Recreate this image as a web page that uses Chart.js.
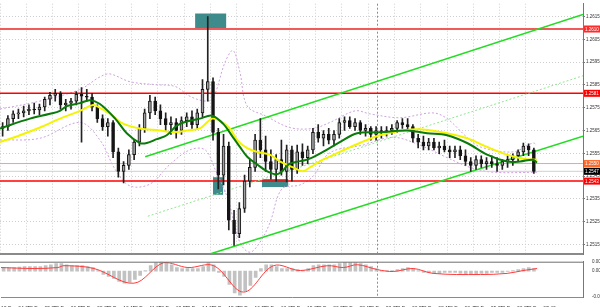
<!DOCTYPE html>
<html>
<head>
<meta charset="utf-8">
<script src="https://cdn.jsdelivr.net/npm/chart.js@4.4.1/dist/chart.umd.min.js"></script>
<style>
  html, body { margin: 0; padding: 0; background: #fff; }
  #wrap { position: relative; width: 600px; height: 307px; overflow: hidden; background: #fff; }
  canvas { position: absolute; left: 0; }
  #priceChart { top: 0; }
  #macdChart { top: 258px; }
</style>
</head>
<body>
<div id="wrap">
  <canvas id="priceChart" width="600" height="258"></canvas>
  <canvas id="macdChart" width="600" height="49"></canvas>
</div>
<script>
// --- DATA ---
const timeLabels = ['12 Dec 04:00', '12 Dec 05:20', '12 Dec 06:50', '12 Dec 08:30', '12 Dec 10:10',
  '12 Dec 11:30', '12 Dec 12:50', '12 Dec 14:10', '12 Dec 15:30', '12 Dec 16:50', '12 Dec 18:10',
  '12 Dec 19:30', '12 Dec 20:50', '12 Dec 22:10', '12 Dec 23:30', '13 Dec 00:50', '13 Dec 02:10',
  '13 Dec 03:40', '13 Dec 05:00', '13 Dec 06:20', '13 Dec 07:40'];
const labelStep = 5;      // candles per time label
const xMax = 110.84;      // right edge of the plot, in candles
const daySeparatorX = 71.7;

const priceTicks = [1.2615, 1.2605, 1.2595, 1.2585, 1.2575, 1.2565, 1.2555, 1.2545, 1.2535, 1.2525, 1.2515];
const priceMin = 1.25107, priceMax = 1.26206;

const opens = [1.25659,1.25667,1.25702,1.25723,1.25727,1.25736,1.25744,1.25740,1.25753,1.25787,
  1.25804,1.25813,1.25762,1.25770,1.25779,1.25809,1.25800,1.25796,1.25753,1.25702,
  1.25667,1.25685,1.25556,1.25471,1.25497,1.25544,1.25599,1.25659,1.25727,1.25779,
  1.25736,1.25702,1.25676,1.25685,1.25650,1.25693,1.25710,1.25676,1.25727,1.25830,
  1.25864,1.25642,1.25454,1.25582,1.25257,1.25197,1.25308,1.25428,1.25488,1.25608,
  1.25565,1.25514,1.25479,1.25522,1.25471,1.25565,1.25479,1.25556,1.25531,1.25565,
  1.25642,1.25616,1.25633,1.25608,1.25633,1.25685,1.25693,1.25667,1.25685,1.25650,
  1.25659,1.25633,1.25650,1.25642,1.25650,1.25659,1.25685,1.25676,1.25667,1.25616,
  1.25599,1.25582,1.25599,1.25573,1.25582,1.25565,1.25556,1.25565,1.25539,1.25514,
  1.25497,1.25522,1.25505,1.25514,1.25505,1.25497,1.25514,1.25522,1.25539,1.25556,
  1.25582,1.25565];
const highs = [1.25685,1.25715,1.25736,1.25744,1.25757,1.25762,1.25770,1.25766,1.25796,1.25817,
  1.25830,1.25821,1.25787,1.25791,1.25821,1.25838,1.25830,1.25813,1.25762,1.25719,
  1.25702,1.25693,1.25573,1.25514,1.25565,1.25608,1.25676,1.25744,1.25804,1.25796,
  1.25762,1.25727,1.25710,1.25702,1.25710,1.25727,1.25736,1.25744,1.25873,1.26150,
  1.25881,1.25659,1.25633,1.25599,1.25300,1.25334,1.25454,1.25522,1.25633,1.25702,
  1.25625,1.25565,1.25544,1.25608,1.25586,1.25582,1.25586,1.25591,1.25582,1.25659,
  1.25676,1.25650,1.25659,1.25650,1.25702,1.25710,1.25710,1.25702,1.25693,1.25676,
  1.25667,1.25667,1.25667,1.25667,1.25676,1.25693,1.25702,1.25702,1.25676,1.25633,
  1.25625,1.25616,1.25616,1.25599,1.25608,1.25582,1.25582,1.25582,1.25565,1.25531,
  1.25539,1.25539,1.25531,1.25539,1.25531,1.25522,1.25539,1.25548,1.25565,1.25595,
  1.25591,1.25573];
const lows = [1.25625,1.25650,1.25685,1.25702,1.25710,1.25719,1.25723,1.25719,1.25736,1.25762,
  1.25779,1.25744,1.25736,1.25744,1.25762,1.25599,1.25779,1.25736,1.25685,1.25650,
  1.25625,1.25531,1.25445,1.25420,1.25479,1.25522,1.25582,1.25642,1.25702,1.25719,
  1.25676,1.25650,1.25633,1.25616,1.25633,1.25667,1.25659,1.25659,1.25710,1.25779,
  1.25608,1.25394,1.25411,1.25214,1.25146,1.25180,1.25291,1.25402,1.25471,1.25531,
  1.25471,1.25437,1.25428,1.25454,1.25424,1.25428,1.25462,1.25497,1.25505,1.25548,
  1.25599,1.25582,1.25591,1.25582,1.25616,1.25650,1.25659,1.25650,1.25633,1.25625,
  1.25608,1.25608,1.25616,1.25625,1.25633,1.25642,1.25659,1.25650,1.25599,1.25573,
  1.25565,1.25565,1.25565,1.25548,1.25556,1.25531,1.25531,1.25522,1.25497,1.25471,
  1.25479,1.25488,1.25479,1.25488,1.25471,1.25479,1.25488,1.25497,1.25514,1.25539,
  1.25539,1.25462];
const closes = [1.25667,1.25702,1.25723,1.25727,1.25736,1.25744,1.25740,1.25753,1.25787,1.25804,
  1.25813,1.25762,1.25770,1.25779,1.25809,1.25800,1.25796,1.25753,1.25702,1.25667,
  1.25685,1.25556,1.25471,1.25497,1.25544,1.25599,1.25659,1.25727,1.25779,1.25736,
  1.25702,1.25676,1.25685,1.25650,1.25693,1.25710,1.25676,1.25727,1.25830,1.25864,
  1.25642,1.25454,1.25582,1.25257,1.25197,1.25308,1.25428,1.25488,1.25608,1.25565,
  1.25514,1.25479,1.25522,1.25471,1.25565,1.25479,1.25556,1.25531,1.25565,1.25642,
  1.25616,1.25633,1.25608,1.25633,1.25685,1.25693,1.25667,1.25685,1.25650,1.25659,
  1.25633,1.25650,1.25642,1.25650,1.25659,1.25685,1.25676,1.25667,1.25616,1.25599,
  1.25582,1.25599,1.25573,1.25582,1.25565,1.25556,1.25565,1.25539,1.25514,1.25497,
  1.25522,1.25505,1.25514,1.25505,1.25497,1.25514,1.25522,1.25539,1.25556,1.25582,
  1.25565,1.25471];

// moving averages
const fastMaX = [0,5.7,9.5,11.4,12.7,15.2,17.1,19.0,21.9,24.1,26.6,27.9,29.8,31.7,33.7,36.1,38.0,40.3,42.4,44.3,
  45.6,47.0,48.9,50.8,52.7,53.8,55.1,58.4,61.4,64.6,67.9,72.2,77.4,81.2,85.0,88.8,92.6,96.4,98.9,101.3,102.1];
const fastMaY = [1.25659,1.25702,1.25723,1.25736,1.25757,1.25770,1.25783,1.25766,1.25702,1.25638,
  1.25595,1.25595,1.25612,1.25629,1.25672,1.25693,1.25702,1.25715,1.25680,1.25620,
  1.25578,1.25535,1.25501,1.25471,1.25458,1.25475,1.25505,1.25522,1.25556,1.25599,
  1.25638,1.25642,1.25650,1.25638,1.25629,1.25595,1.25544,1.25514,1.25514,1.25522,1.25509];
const slowMaX = [0,3.8,7.6,11.4,15.2,17.7,19.0,20.9,23.4,26.6,30.4,32.9,35.6,38.0,40.3,41.8,43.7,45.1,47.0,48.9,
  51.3,53.2,55.7,57.6,58.9,61.4,64.6,68.4,72.2,76.6,79.8,85.0,88.8,92.6,96.4,99.4,102.1];
const slowMaY = [1.25599,1.25629,1.25663,1.25702,1.25736,1.25762,1.25749,1.25723,1.25680,1.25659,
  1.25650,1.25642,1.25650,1.25659,1.25702,1.25693,1.25659,1.25608,1.25573,1.25556,
  1.25544,1.25514,1.25488,1.25471,1.25488,1.25522,1.25556,1.25595,1.25629,1.25650,
  1.25655,1.25638,1.25616,1.25578,1.25544,1.25526,1.25522];

// bands
const upperBandX = [0,7.6,15.2,19.0,20.9,24.7,29.5,33.3,36.1,39.0,40.5,42.8,44.3,45.6,47.0,50.4,55.1,59.5,62.7,
  67.5,70.3,76.0,82.3,85.0,88.8,91.3,97.5,101.3,102.1];
const upperBandY = [1.25744,1.25779,1.25830,1.25885,1.25898,1.25864,1.25851,1.25843,1.25800,1.25779,1.25791,
  1.25950,1.26001,1.25907,1.25757,1.25715,1.25663,1.25659,1.25685,1.25736,1.25723,1.25706,1.25727,1.25702,
  1.25620,1.25578,1.25556,1.25595,1.25586];
const lowerBandX = [0,7.6,15.2,19.0,21.9,24.7,28.5,32.3,36.1,39.0,40.9,43.3,45.6,47.5,49.4,51.3,53.6,57.0,59.5,
  62.7,69.0,74.7,79.8,85.0,89.4,93.7,102.1];
const lowerBandY = [1.25608,1.25616,1.25685,1.25608,1.25479,1.25407,1.25415,1.25501,1.25565,1.25565,1.25479,
  1.25351,1.25159,1.25116,1.25159,1.25244,1.25394,1.25411,1.25449,1.25552,1.25586,1.25620,1.25586,1.25531,
  1.25488,1.25467,1.25467];

// trend channel
const upperChannelX = [27.6, 110.84], upperChannelY = [1.25535, 1.26159];
const lowerChannelX = [39.9, 110.84], lowerChannelY = [1.25108, 1.25625];
const midChannelX = [28.1, 110.84], midChannelY = [1.25274, 1.25890];

// horizontal levels
const levelPrices = [1.26095, 1.25813, 1.25505, 1.25428];
const levelColors = ['#f05a5a', '#ff0000', '#ffa07a', '#ff0000'];
const levelWidths = [2, 1.5, 1, 1.5];
const tagColors = ['#ff2a2a', '#ff0000', '#ff6a2a', '#ff0000'];
const bidPrice = 1.25471;

// zones
const zoneStart = [37.1, 40.5, 49.8];
const zoneEnd = [43.0, 42.4, 54.8];
const zoneTop = [1.26163, 1.25445, 1.25437];
const zoneBottom = [1.26091, 1.25368, 1.25402];

// MACD
const macdHist = [0.00019,0.00019,0.00019,0.00021,0.00024,0.00024,0.00024,0.00024,0.00029,0.00034,
  0.00040,0.00040,0.00034,0.00029,0.00029,0.00029,0.00024,0.00019,0.00003,-0.00018,
  -0.00028,-0.00038,-0.00054,-0.00064,-0.00059,-0.00044,-0.00023,0.00003,0.00029,0.00045,
  0.00050,0.00045,0.00034,0.00019,0.00014,0.00014,0.00014,0.00014,0.00024,0.00045,
  0.00034,-0.00007,-0.00028,-0.00070,-0.00116,-0.00127,-0.00106,-0.00075,-0.00033,0.00014,
  0.00034,0.00034,0.00024,0.00014,0.00014,0.00014,0.00008,0.00003,0.00014,0.00029,
  0.00034,0.00034,0.00034,0.00034,0.00040,0.00045,0.00045,0.00045,0.00040,0.00034,
  0.00024,0.00014,0.00003,0.00003,0.00003,0.00008,0.00014,0.00019,0.00014,0.00003,
  -0.00007,-0.00007,-0.00012,-0.00012,-0.00007,-0.00007,-0.00007,-0.00012,-0.00018,-0.00018,
  -0.00018,-0.00012,-0.00012,-0.00007,-0.00007,-0.00007,-0.00002,0.00003,0.00008,0.00014,
  0.00019,0.00014];
const signalX = [0,6.3,10.8,12.0,17.7,25.3,31.0,35.6,40.5,46.2,51.9,57.0,62.2,65.2,67.9,71.7,74.7,78.5,82.3,91.3,96.4,99.4,102.1];
const signalY = [0.00019,0.00014,0.00019,0.00029,0.00014,-0.00064,0.00045,0.00019,0.00029,-0.00111,0.00029,
  0.00003,0.00029,0.00019,0.00034,0.00008,-0.00002,0.00014,-0.00012,-0.00018,-0.00012,0.00003,0.00014];
const macdTicks = [0.0005, 0, -0.00137];

// --- HELPERS ---
const xy = (xs, ys) => xs.map((v, i) => ({ x: v, y: ys[i] }));
const tickFont = { family: '"Liberation Sans", sans-serif', size: 5 };
const labelTicks = s => { s.ticks = timeLabels.map((t, k) => ({ value: k * labelStep })); };

// --- PLUGINS ---
const zonePlugin = {
  id: 'zones',
  beforeDatasetsDraw(chart) {
    const { ctx, scales: { x, y } } = chart;
    ctx.save();
    ctx.fillStyle = '#3e8b8b';
    zoneStart.forEach((s, i) => {
      const x0 = x.getPixelForValue(s), x1 = x.getPixelForValue(zoneEnd[i]);
      const y0 = y.getPixelForValue(zoneTop[i]), y1 = y.getPixelForValue(zoneBottom[i]);
      ctx.fillRect(x0, y0, x1 - x0, y1 - y0);
    });
    ctx.restore();
  }
};

const separatorPlugin = {
  id: 'daySep',
  beforeDatasetsDraw(chart) {
    const { ctx, chartArea, scales: { x } } = chart;
    const px = Math.round(x.getPixelForValue(daySeparatorX)) + 0.5;
    ctx.save();
    ctx.strokeStyle = '#8c8c8c';
    ctx.lineWidth = 1;
    ctx.setLineDash([2, 2]);
    ctx.beginPath();
    ctx.moveTo(px, chartArea.top);
    ctx.lineTo(px, chartArea.bottom);
    ctx.stroke();
    ctx.restore();
  }
};

const tagPlugin = {
  id: 'levelTags',
  afterDraw(chart) {
    const { ctx, chartArea, scales: { y } } = chart;
    const draw = (p, bg) => {
      const py = y.getPixelForValue(p);
      ctx.fillStyle = bg;
      ctx.fillRect(chartArea.right + 1, py - 3.5, 17, 7);
      ctx.fillStyle = '#fff';
      ctx.fillText(p.toFixed(4), chartArea.right + 2, py + 0.5);
    };
    ctx.save();
    ctx.font = '4.5px "Liberation Sans", sans-serif';
    ctx.textBaseline = 'middle';
    levelPrices.forEach((p, i) => draw(p, tagColors[i]));
    draw(bidPrice, '#000');
    ctx.restore();
  }
};

const framePlugin = {
  id: 'frame',
  afterDraw(chart) {
    const { ctx, chartArea } = chart;
    ctx.save();
    ctx.strokeStyle = '#6e6e6e';
    ctx.lineWidth = 1;
    ctx.beginPath();
    ctx.moveTo(0, chartArea.top + 0.5);
    ctx.lineTo(chartArea.right, chartArea.top + 0.5);
    ctx.stroke();
    ctx.restore();
  }
};

// --- PRICE CHART ---
const lineSet = (data, color, width, order, extra) => Object.assign({
  type: 'line', data, borderColor: color, borderWidth: width, pointRadius: 0, tension: 0.35, order
}, extra || {});

const priceDatasets = [
  lineSet(xy(fastMaX, fastMaY), '#0a7a0a', 2, 1),
  lineSet(xy(slowMaX, slowMaY), '#f4f400', 2, 2),
  {
    type: 'bar', order: 3, grouped: false, barThickness: 3, borderWidth: 1, borderSkipped: false,
    borderColor: '#151515',
    backgroundColor: opens.map((o, i) => closes[i] >= o ? '#a0a0a0' : '#151515'),
    data: opens.map((o, i) => ({ x: i + 0.5, y: [o, closes[i]] }))
  },
  {
    type: 'bar', order: 4, grouped: false, barThickness: 1, backgroundColor: '#222',
    data: highs.map((h, i) => ({ x: i + 0.5, y: [lows[i], h] }))
  },
  lineSet(xy(upperChannelX, upperChannelY), '#22dd22', 1.6, 5, { tension: 0 }),
  lineSet(xy(lowerChannelX, lowerChannelY), '#22dd22', 1.6, 5, { tension: 0 }),
  lineSet(xy(midChannelX, midChannelY), '#8ee88e', 1, 5, { tension: 0, borderDash: [2, 2] }),
  ...levelPrices.map((p, i) => lineSet([{ x: 0, y: p }, { x: xMax, y: p }], levelColors[i], levelWidths[i], 6, { tension: 0 })),
  lineSet([{ x: 0, y: bidPrice }, { x: xMax, y: bidPrice }], '#d0d0d0', 1, 7, { tension: 0 }),
  lineSet(xy(upperBandX, upperBandY), '#cfa0e0', 1, 8, { borderDash: [2, 2] }),
  lineSet(xy(lowerBandX, lowerBandY), '#cfa0e0', 1, 8, { borderDash: [2, 2] })
];

new Chart(document.getElementById('priceChart'), {
  type: 'bar',
  data: { datasets: priceDatasets },
  options: {
    responsive: false, animation: false, devicePixelRatio: 1,
    layout: { padding: 0 },
    plugins: { legend: { display: false }, tooltip: { enabled: false } },
    scales: {
      x: {
        type: 'linear', min: 0, max: xMax, offset: false,
        afterBuildTicks: labelTicks,
        afterFit: s => { s.height = 1; },
        ticks: { display: false },
        grid: { color: '#cfcfcf', drawTicks: false, offset: false },
        border: { color: '#8a8a8a', width: 2, dash: [1, 2] }
      },
      y: {
        position: 'right', min: priceMin, max: priceMax,
        afterBuildTicks: s => { s.ticks = priceTicks.map(v => ({ value: v })); },
        afterFit: s => { s.width = 17; },
        ticks: { font: { family: '"Liberation Sans", sans-serif', size: 4.5 }, color: '#333', padding: 1, callback: v => v.toFixed(4) },
        grid: { color: '#cfcfcf', tickLength: 2, tickColor: '#777' },
        border: { color: '#777', width: 1, dash: [1, 2] }
      }
    }
  },
  plugins: [zonePlugin, separatorPlugin, tagPlugin]
});

// --- MACD CHART ---
new Chart(document.getElementById('macdChart'), {
  type: 'bar',
  data: {
    datasets: [
      lineSet(xy(signalX, signalY), '#ff3b3b', 1, 1),
      {
        type: 'bar', order: 2, barThickness: 3, backgroundColor: '#c2c2c2',
        data: macdHist.map((v, i) => ({ x: i + 0.5, y: v }))
      }
    ]
  },
  options: {
    responsive: false, animation: false, devicePixelRatio: 1,
    layout: { padding: { top: 3 } },
    plugins: { legend: { display: false }, tooltip: { enabled: false } },
    scales: {
      x: {
        type: 'linear', min: 0, max: xMax, offset: false,
        afterBuildTicks: labelTicks,
        afterFit: s => { s.height = 10; },
        ticks: {
          font: tickFont, color: '#333', align: 'start', maxRotation: 0, autoSkip: false, padding: 1,
          callback: (v) => timeLabels[Math.round(v / labelStep)]
        },
        grid: { display: false },
        border: { color: '#8a8a8a', width: 1 }
      },
      y: {
        position: 'right', min: macdTicks[2], max: macdTicks[0],
        afterBuildTicks: s => { s.ticks = macdTicks.map(v => ({ value: v })); },
        afterFit: s => { s.width = 17; },
        ticks: { font: { family: '"Liberation Sans", sans-serif', size: 4.5 }, color: '#333', padding: 1, callback: v => v === 0 ? '0.00' : String(v) },
        grid: { display: false },
        border: { color: '#777', width: 1 }
      }
    }
  },
  plugins: [separatorPlugin, framePlugin]
});
</script>
</body>
</html>
